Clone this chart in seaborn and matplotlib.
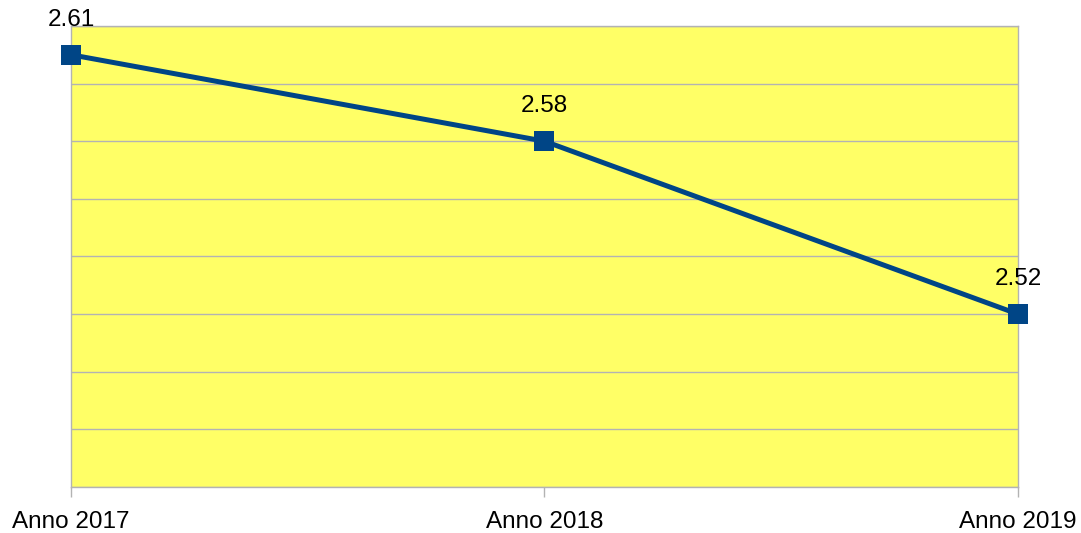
import pandas as pd
import seaborn as sns
import matplotlib.pyplot as plt

# Data
years = ['Anno 2017', 'Anno 2018', 'Anno 2019']
values = [2.61, 2.58, 2.52]

df = pd.DataFrame({'Anno': years, 'Valore': values})

sns.set_style("white")
plt.rcParams['font.family'] = ['Liberation Sans', 'DejaVu Sans']

fig = plt.figure(figsize=(10.81, 5.33), dpi=100)
ax = fig.add_axes([0.0657, 0.0863, 0.876, 0.865])
ax.set_facecolor('#ffff66')

sns.lineplot(data=df, x='Anno', y='Valore', ax=ax, color='#004586', linewidth=3.6,
             marker='s', markersize=14, markeredgewidth=0, zorder=5, clip_on=False)

# value labels above each point
for i, v in enumerate(values):
    ax.annotate(f'{v:.2f}', (i, v), xytext=(0, 25), textcoords='offset points',
                ha='center', va='center', fontsize=17.5, color='black')

ax.set_xlim(0, 2)
ax.set_ylim(2.46, 2.62)
ax.set_yticks([2.46 + 0.02 * k for k in range(9)])
ax.yaxis.grid(True, color='#b3b3b3', linewidth=1)
ax.set_yticklabels([])
ax.tick_params(axis='y', length=0)
ax.tick_params(axis='x', length=7.5, width=1, color='#b3b3b3', labelsize=17.5,
               labelcolor='black', pad=10, bottom=True)
ax.set_xlabel('')
ax.set_ylabel('')
for s in ax.spines.values():
    s.set_color('#b3b3b3')
    s.set_linewidth(1)

fig.savefig('out.png', dpi=100)
